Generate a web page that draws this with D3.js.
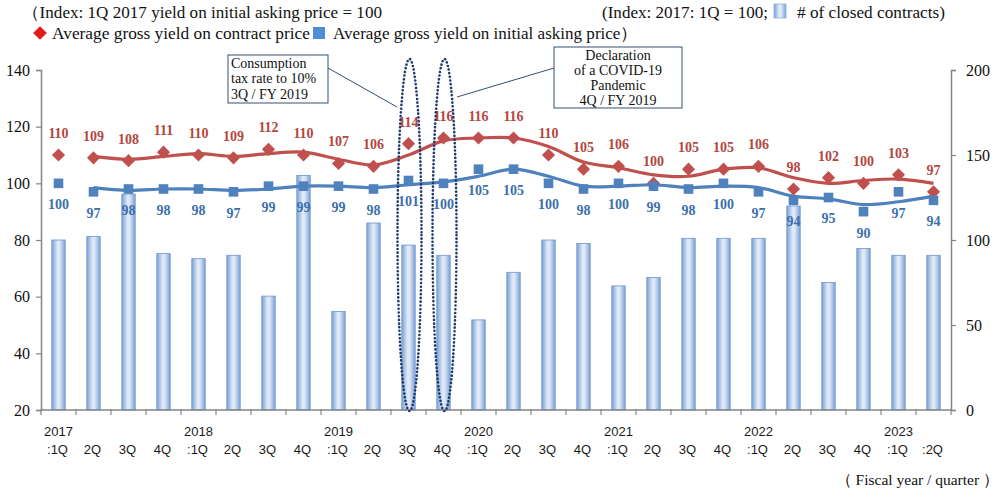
<!DOCTYPE html>
<html>
<head>
<meta charset="utf-8">
<script src="https://cdn.jsdelivr.net/npm/d3@7"></script>
<style>
  html, body { margin: 0; padding: 0; background: #fff; }
  svg { display: block; }
</style>
</head>
<body>
<svg id="chart" width="1000" height="492"></svg>
<script>
// ---- Data ----
const years    = ["2017","","","","2018","","","","2019","","","","2020","","","","2021","","","","2022","","","","2023",""];
const quarters = [":1Q","2Q","3Q","4Q",":1Q","2Q","3Q","4Q",":1Q","2Q","3Q","4Q",":1Q","2Q","3Q","4Q",":1Q","2Q","3Q","4Q",":1Q","2Q","3Q","4Q",":1Q",":2Q"];
const contractYield = [110,109,108,111,110,109,112,110,107,106,114,116,116,116,110,105,106,100,105,105,106,98,102,100,103,97];
const askingYield   = [100,97,98,98,98,97,99,99,99,98,101,100,105,105,100,98,100,99,98,100,97,94,95,90,97,94];
const contractTrend = [null,109.5,108.5,109.5,110.5,109.5,110.5,111,108.5,106.5,110,115,116,116,113,107.5,105.5,103,102.5,105,105.5,102,100,101,101.5,100];
const askingTrend   = [null,98.5,97.5,98,98,97.5,98,99,99,98.5,99.5,100.5,102.5,105,102.5,99,99,99.5,98.5,99,98.5,95.5,94.5,92.5,93.5,95.5];
const closedContracts = [100,102,127,92,89,91,67,138,58,110,97,91,53,81,100,98,73,78,101,101,101,120,75,95,91,91];
const leftTicks  = [20,40,60,80,100,120,140];
const rightTicks = [0,50,100,150,200];
const legendLabels = ["Average gross yield on contract price", "Average gross yield on initial asking price）"];
const noteIndex = "（Index: 1Q 2017 yield on initial asking price = 100";
const noteRight1 = "(Index: 2017: 1Q = 100;";
const noteRight2 = "# of closed contracts)";
const eventIdx = [10, 11];
const event1 = ["Consumption","tax rate to 10%","3Q / FY 2019"];
const event2 = ["Declaration","of a COVID-19","Pandemic","4Q / FY 2019"];
const xTitle = "（ Fiscal year / quarter ）";

// ---- Setup ----
const cats = quarters.map((q,i)=>i);
const svg = d3.select("#chart");
const SERIF = "'Liberation Serif','Times New Roman',serif";
const SANS = "'Liberation Sans',Arial,sans-serif";
const RED = "#c0504d", BLUE = "#4f81bd";

const x  = d3.scaleBand().domain(cats).range([41, 951]).padding(0);
const yL = d3.scaleLinear().domain([20,140]).range([410,70]);
const yR = d3.scaleLinear().domain([0,200]).range([410,70]);
const cx = i => x(i) + x.bandwidth()/2;

// gradient for bars
const defs = svg.append("defs");
const grad = defs.append("linearGradient").attr("id","barGrad").attr("x1","0").attr("x2","1").attr("y1","0").attr("y2","0");
grad.append("stop").attr("offset","0").attr("stop-color","#7aa1d6");
grad.append("stop").attr("offset","0.45").attr("stop-color","#e3ecf8");
grad.append("stop").attr("offset","0.6").attr("stop-color","#dbe6f6");
grad.append("stop").attr("offset","1").attr("stop-color","#7aa1d6");

// ---- Bars ----
const bw = 13.4;
svg.append("g").selectAll("rect").data(closedContracts).join("rect")
  .attr("x",(d,i)=>cx(i)-bw/2)
  .attr("y",d=>yR(d))
  .attr("width",bw)
  .attr("height",d=>yR(0)-yR(d))
  .attr("fill","url(#barGrad)")
  .attr("stroke","#6f96cf").attr("stroke-width",0.8);

// ---- Axes ----
const axisColor = "#858585";
const gL = svg.append("g").attr("transform","translate(41,0)")
  .call(d3.axisLeft(yL).tickValues(leftTicks).tickSize(5).tickPadding(6));
const gR = svg.append("g").attr("transform","translate(951,0)")
  .call(d3.axisRight(yR).tickValues(rightTicks).tickSize(5).tickPadding(10));
[gL,gR].forEach(g=>{
  g.select(".domain").attr("stroke",axisColor).attr("stroke-width",1.5);
  g.selectAll(".tick line").attr("stroke",axisColor).attr("stroke-width",1.2);
  g.selectAll(".tick text").attr("font-family",SERIF).attr("font-size",16).attr("fill","#111");
});
// bottom axis
const gB = svg.append("g");
gB.append("line").attr("x1",41).attr("x2",951).attr("y1",yL(20)).attr("y2",yL(20))
  .attr("stroke",axisColor).attr("stroke-width",1.5);
const bounds = d3.range(cats.length+1).map(i=> i<cats.length ? x(i) : x(cats.length-1)+x.bandwidth());
gB.selectAll("line.tk").data(bounds).join("line").attr("class","tk")
  .attr("x1",d=>d).attr("x2",d=>d).attr("y1",yL(20)-1).attr("y2",yL(20)+5)
  .attr("stroke",axisColor).attr("stroke-width",1.2);
gB.selectAll("text.yr").data(years).join("text").attr("class","yr")
  .attr("x",(d,i)=>cx(i)).attr("y",436)
  .attr("text-anchor","middle").attr("font-family",SANS).attr("font-size",13).attr("fill","#1a1a1a")
  .text(d=>d);
gB.selectAll("text.q").data(quarters).join("text").attr("class","q")
  .attr("x",(d,i)=>cx(i)-1).attr("y",454)
  .attr("text-anchor","middle").attr("font-family",SANS).attr("font-size",13).attr("fill","#1a1a1a")
  .text(d=>d);

// ---- Trend lines ----
const lineGen = d3.line().defined(d=>d.v!=null).x(d=>cx(d.i)).y(d=>yL(d.v)).curve(d3.curveCatmullRom.alpha(0.5));
svg.append("path").datum(contractTrend.map((v,i)=>({i,v})))
  .attr("d",lineGen).attr("fill","none").attr("stroke",RED).attr("stroke-width",3.2);
svg.append("path").datum(askingTrend.map((v,i)=>({i,v})))
  .attr("d",lineGen).attr("fill","none").attr("stroke",BLUE).attr("stroke-width",3.2);

// ---- Markers ----
svg.append("g").selectAll("path").data(contractYield).join("path")
  .attr("d",d3.symbol(d3.symbolDiamond2 || d3.symbolDiamond).size(110))
  .attr("transform",(d,i)=>`translate(${cx(i)},${yL(d)})`)
  .attr("fill",RED);
svg.append("g").selectAll("rect").data(askingYield).join("rect")
  .attr("x",(d,i)=>cx(i)-4.8).attr("y",d=>yL(d)-4.8).attr("width",9.6).attr("height",9.6)
  .attr("fill",BLUE);

// ---- Data labels ----
svg.append("g").selectAll("text").data(contractYield).join("text")
  .attr("x",(d,i)=>cx(i)).attr("y",d=>yL(d)-22)
  .attr("dy","0.35em").attr("text-anchor","middle")
  .attr("font-family",SERIF).attr("font-weight","bold").attr("font-size",14).attr("fill","#b3463f")
  .text(d=>d);
svg.append("g").selectAll("text").data(askingYield).join("text")
  .attr("x",(d,i)=>cx(i)).attr("y",d=>yL(d)+21)
  .attr("dy","0.35em").attr("text-anchor","middle")
  .attr("font-family",SERIF).attr("font-weight","bold").attr("font-size",14).attr("fill","#3d6eac")
  .text(d=>d);

// ---- Event ellipses ----
svg.append("g").selectAll("ellipse").data(eventIdx).join("ellipse")
  .attr("cx",i=>cx(i)+1).attr("cy",235).attr("rx",12).attr("ry",176)
  .attr("fill","none").attr("stroke","#1f3a6e").attr("stroke-width",2.6)
  .attr("stroke-dasharray","0.1 3.6").attr("stroke-linecap","round");

// ---- Annotation boxes ----
const ann = svg.append("g");
ann.append("line").attr("x1",328).attr("y1",68).attr("x2",397).attr("y2",107).attr("stroke","#34506f").attr("stroke-width",1);
ann.append("line").attr("x1",554).attr("y1",68).attr("x2",457).attr("y2",97).attr("stroke","#34506f").attr("stroke-width",1);
ann.append("rect").attr("x",228).attr("y",55).attr("width",100).attr("height",48)
  .attr("fill","#fff").attr("stroke","#34506f").attr("stroke-width",1);
ann.selectAll("text.a1").data(event1).join("text").attr("class","a1")
  .attr("x",231).attr("y",(d,i)=>67.5+i*15.6)
  .attr("font-family",SERIF).attr("font-size",14).attr("fill","#111").text(d=>d);
ann.append("rect").attr("x",554).attr("y",47).attr("width",128).attr("height",61)
  .attr("fill","#fff").attr("stroke","#34506f").attr("stroke-width",1);
ann.selectAll("text.a2").data(event2).join("text").attr("class","a2")
  .attr("x",618).attr("y",(d,i)=>60+i*15)
  .attr("text-anchor","middle")
  .attr("font-family",SERIF).attr("font-size",14).attr("fill","#111").text(d=>d);

// ---- Header texts / legend ----
function headText(str, x0, y0, len) {
  svg.append("text").attr("x",x0).attr("y",y0)
    .attr("font-family",SERIF).attr("font-size",16.5).attr("fill","#111")
    .attr("textLength",len).attr("lengthAdjust","spacingAndGlyphs").text(str);
}
headText(noteIndex, 22, 18, 360);
svg.append("path").attr("d",d3.symbol(d3.symbolDiamond2 || d3.symbolDiamond).size(120)).attr("transform","translate(40,33)").attr("fill","#e31b1b");
headText(legendLabels[0], 52, 39, 258);
svg.append("rect").attr("x",313).attr("y",27).attr("width",12).attr("height",12).attr("fill","#4f8dd6");
headText(legendLabels[1], 333, 39, 305);

headText(noteRight1, 602, 18, 166);
svg.append("rect").attr("x",774).attr("y",4).attr("width",12).attr("height",14).attr("fill","url(#barGrad)").attr("stroke","#8fb0de").attr("stroke-width",0.8);
headText(noteRight2, 797, 18, 148);

svg.append("text").attr("x",999).attr("y",485).attr("text-anchor","end")
  .attr("font-family",SERIF).attr("font-size",15.5).attr("fill","#111").text(xTitle);
</script>
</body>
</html>
